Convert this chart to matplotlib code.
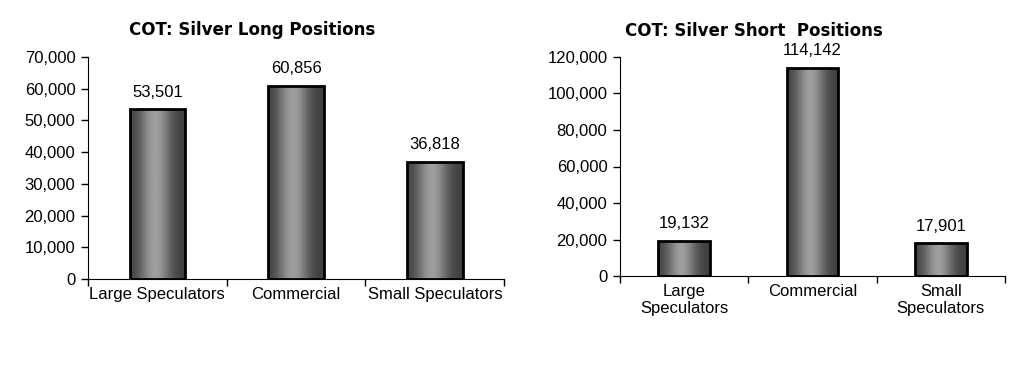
import matplotlib
matplotlib.use("Agg")
import matplotlib.pyplot as plt
import numpy as np
from matplotlib.patches import Rectangle

# COT silver positions
categories_long = ["Large Speculators", "Commercial", "Small Speculators"]
categories_short = ["Large\nSpeculators", "Commercial", "Small\nSpeculators"]
long_positions = [53501, 60856, 36818]
short_positions = [19132, 114142, 17901]

plt.rcParams['font.family'] = ['Liberation Sans', 'DejaVu Sans']

# horizontal shading: dark edges, light centre
x = np.linspace(0, 1, 256)
shade = 0.24 + 0.38 * np.exp(-((x - 0.45) / 0.28) ** 2)
grad = np.tile(shade, (2, 1))


def draw_panel(ax, labels, values, ymax, step, title, title_x):
    bar_w = 0.4
    bars = ax.bar(range(len(values)), values, width=bar_w, facecolor='none',
                  edgecolor='black', linewidth=2, zorder=3)
    for b, v in zip(bars, values):
        x0, y0 = b.get_x(), b.get_y()
        w, h = b.get_width(), b.get_height()
        im = ax.imshow(grad, cmap='gray', vmin=0, vmax=1, aspect='auto',
                       extent=[x0, x0 + w, y0, y0 + h], zorder=2,
                       interpolation='bilinear')
        im.set_clip_path(Rectangle((x0, y0), w, h, transform=ax.transData))
        ax.annotate(f"{v:,}", (x0 + w / 2, v), xytext=(0, 7),
                    textcoords='offset points', ha='center', va='bottom',
                    fontsize=12)
    ax.set_xlim(-0.5, len(values) - 0.5)
    ax.set_ylim(0, ymax)
    ticks = np.arange(0, ymax + 1, step)
    ax.set_yticks(ticks)
    ax.set_yticklabels([f"{int(t):,}" for t in ticks], fontsize=12)
    ax.set_xticks(range(len(values)))
    ax.set_xticklabels(labels, fontsize=12, linespacing=1.15)
    ax.tick_params(axis='x', length=0, pad=6)
    ax.set_xticks(np.arange(-0.5, len(values)), minor=True)
    ax.tick_params(axis='x', which='minor', length=5, width=1)
    ax.tick_params(axis='y', length=5, width=1, pad=4)
    for s in ['top', 'right']:
        ax.spines[s].set_visible(False)
    ax.text(title_x, 1.12, title, transform=ax.transAxes, ha='center',
            va='center', fontsize=12, fontweight='bold', family='DejaVu Sans')


fig = plt.figure(figsize=(10.29, 3.70), dpi=100)
ax1 = fig.add_axes([0.0855, 0.246, 0.4045, 0.600])
ax2 = fig.add_axes([0.6025, 0.254, 0.3742, 0.592])

draw_panel(ax1, categories_long, long_positions, 70000, 10000,
           "COT: Silver Long Positions", 0.394)
draw_panel(ax2, categories_short, short_positions, 120000, 20000,
           "COT: Silver Short  Positions", 0.348)

fig.savefig("out.png", dpi=100)
